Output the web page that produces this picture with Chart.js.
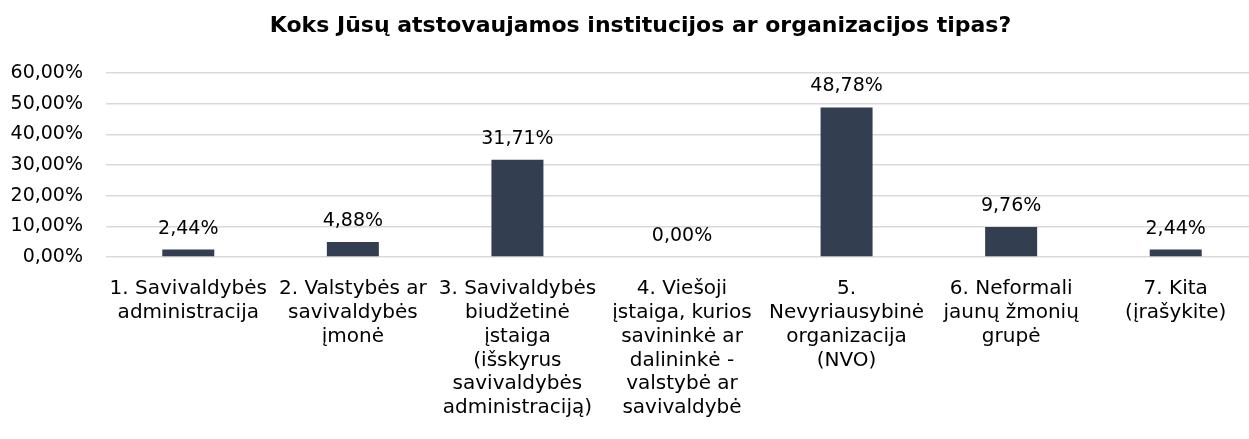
<!DOCTYPE html>
<html lang="lt">
<head>
<meta charset="utf-8">
<title>Koks Jūsų atstovaujamos institucijos ar organizacijos tipas?</title>
<script src="https://cdn.jsdelivr.net/npm/chart.js@4"></script>
<style>
  html, body { margin: 0; padding: 0; background: #ffffff; }
  #wrap { width: 1249px; height: 439px; overflow: hidden; position: relative; }
  canvas { display: block; }
</style>
</head>
<body>
<div id="wrap"><canvas id="chart" width="1281" height="439"></canvas></div>
<script>
// Category labels, one array of lines per bar
const categories = [
  ['1. Savivaldybės', 'administracija'],
  ['2. Valstybės ar', 'savivaldybės', 'įmonė'],
  ['3. Savivaldybės', 'biudžetinė', 'įstaiga', '(išskyrus', 'savivaldybės', 'administraciją)'],
  ['4. Viešoji', 'įstaiga, kurios', 'savininkė ar', 'dalininkė -', 'valstybė ar', 'savivaldybė'],
  ['5.', 'Nevyriausybinė', 'organizacija', '(NVO)'],
  ['6. Neformali', 'jaunų žmonių', 'grupė'],
  ['7. Kita', '(įrašykite)']
];

// Share of respondents, percent
const shares = [2.44, 4.88, 31.71, 0.00, 48.78, 9.76, 2.44];

// Value-axis ticks, percent
const yTicks = [0, 10, 20, 30, 40, 50, 60];

const chartTitle = 'Koks Jūsų atstovaujamos institucijos ar organizacijos tipas?';

const FONT = '"DejaVu Sans", sans-serif';
const BAR_COLOR = '#333F50';

const fmtPct = v => v.toFixed(2).replace('.', ',') + '%';

// Title centred on the whole canvas
const canvasTitle = {
  id: 'canvasTitle',
  afterDraw(chart) {
    const ctx = chart.ctx;
    ctx.save();
    ctx.font = 'bold 22px ' + FONT;
    ctx.fillStyle = '#000000';
    ctx.textAlign = 'center';
    ctx.textBaseline = 'alphabetic';
    ctx.fillText(chartTitle, chart.width / 2, 32);
    ctx.restore();
  }
};

// Draws the value above each bar
const valueLabels = {
  id: 'valueLabels',
  afterDatasetsDraw(chart) {
    const ctx = chart.ctx;
    const meta = chart.getDatasetMeta(0);
    ctx.save();
    ctx.font = '19px ' + FONT;
    ctx.fillStyle = '#000000';
    ctx.textAlign = 'center';
    ctx.textBaseline = 'alphabetic';
    meta.data.forEach((bar, i) => {
      ctx.fillText(fmtPct(shares[i]), bar.x, bar.y - 16);
    });
    ctx.restore();
  }
};

new Chart(document.getElementById('chart'), {
  type: 'bar',
  data: {
    labels: categories,
    datasets: [{
      data: shares,
      backgroundColor: BAR_COLOR,
      borderWidth: 0,
      barPercentage: 0.316,
      categoryPercentage: 1.0
    }]
  },
  options: {
    responsive: false,
    animation: false,
    layout: { padding: { left: 0, right: 23, top: 73, bottom: 0 } },
    plugins: {
      legend: { display: false },
      tooltip: { enabled: false },
      title: { display: false }
    },
    scales: {
      x: {
        grid: { display: false },
        border: { display: false },
        ticks: {
          color: '#000000',
          font: { family: FONT, size: 20, lineHeight: 1.19 },
          padding: 12,
          maxRotation: 0,
          autoSkip: false
        },
        afterFit(scale) { scale.height = 182; }
      },
      y: {
        min: 0,
        max: 60,
        afterBuildTicks(scale) { scale.ticks = yTicks.map(v => ({ value: v })); },
        grid: { color: '#D9D9D9', lineWidth: 1.5, drawTicks: false },
        border: { display: false },
        ticks: {
          color: '#000000',
          font: { family: FONT, size: 19 },
          padding: 23,
          callback: v => fmtPct(v)
        },
        afterFit(scale) { scale.width = 106; }
      }
    }
  },
  plugins: [valueLabels, canvasTitle]
});
</script>
</body>
</html>
